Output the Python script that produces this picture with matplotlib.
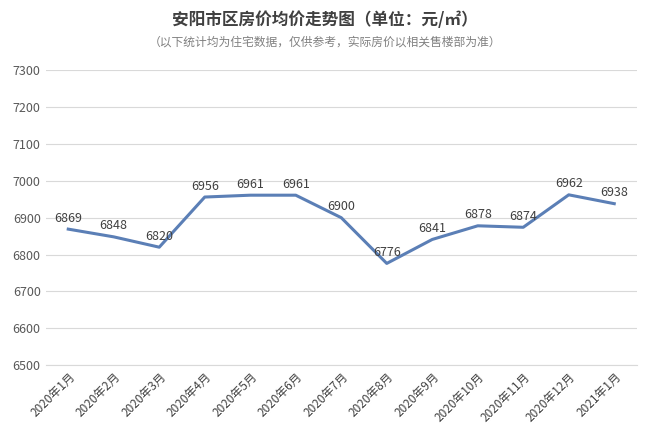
import matplotlib.pyplot as plt

plt.rcParams['font.family'] = ['Noto Sans CJK SC', 'DejaVu Sans']

months = ["2020年1月", "2020年2月", "2020年3月", "2020年4月", "2020年5月", "2020年6月",
          "2020年7月", "2020年8月", "2020年9月", "2020年10月", "2020年11月", "2020年12月",
          "2021年1月"]
prices = [6869, 6848, 6820, 6956, 6961, 6961, 6900, 6776, 6841, 6878, 6874, 6962, 6938]
yticks = list(range(6500, 7301, 100))

fig = plt.figure(figsize=(6.5, 4.47), dpi=100)
ax = fig.add_axes([0.07, 0.183, 0.91, 0.66])
x = range(len(months))
ax.plot(x, prices, color="#5b7fb6", lw=2.2)
for i, v in zip(x, prices):
    ax.text(i, v + 12, str(v), ha="center", va="bottom", fontsize=9, color="#404040")

ax.set_ylim(6500, 7300)
ax.set_yticks(yticks)
ax.set_xlim(-0.5, len(months) - 0.5)
ax.set_xticks(list(x))
ax.set_xticklabels(months, rotation=45, ha="right", rotation_mode="anchor", fontsize=8.5, color="#404040")
ax.tick_params(axis="y", labelsize=9, colors="#595959", length=0)
ax.tick_params(axis="x", length=0)
ax.grid(axis="y", color="#d9d9d9", lw=0.8)
ax.set_axisbelow(True)
for s in ["top", "right", "left"]:
    ax.spines[s].set_visible(False)
ax.spines["bottom"].set_color("#d9d9d9")

fig.text(0.5, 0.955, "安阳市区房价均价走势图（单位：元/㎡）", ha="center", va="center",
         fontsize=12, fontweight="bold", color="#404040")
fig.text(0.5, 0.905, "（以下统计均为住宅数据，仅供参考，实际房价以相关售楼部为准）", ha="center",
         va="center", fontsize=8.5, color="#808080")
fig.savefig("out.png", dpi=100)
